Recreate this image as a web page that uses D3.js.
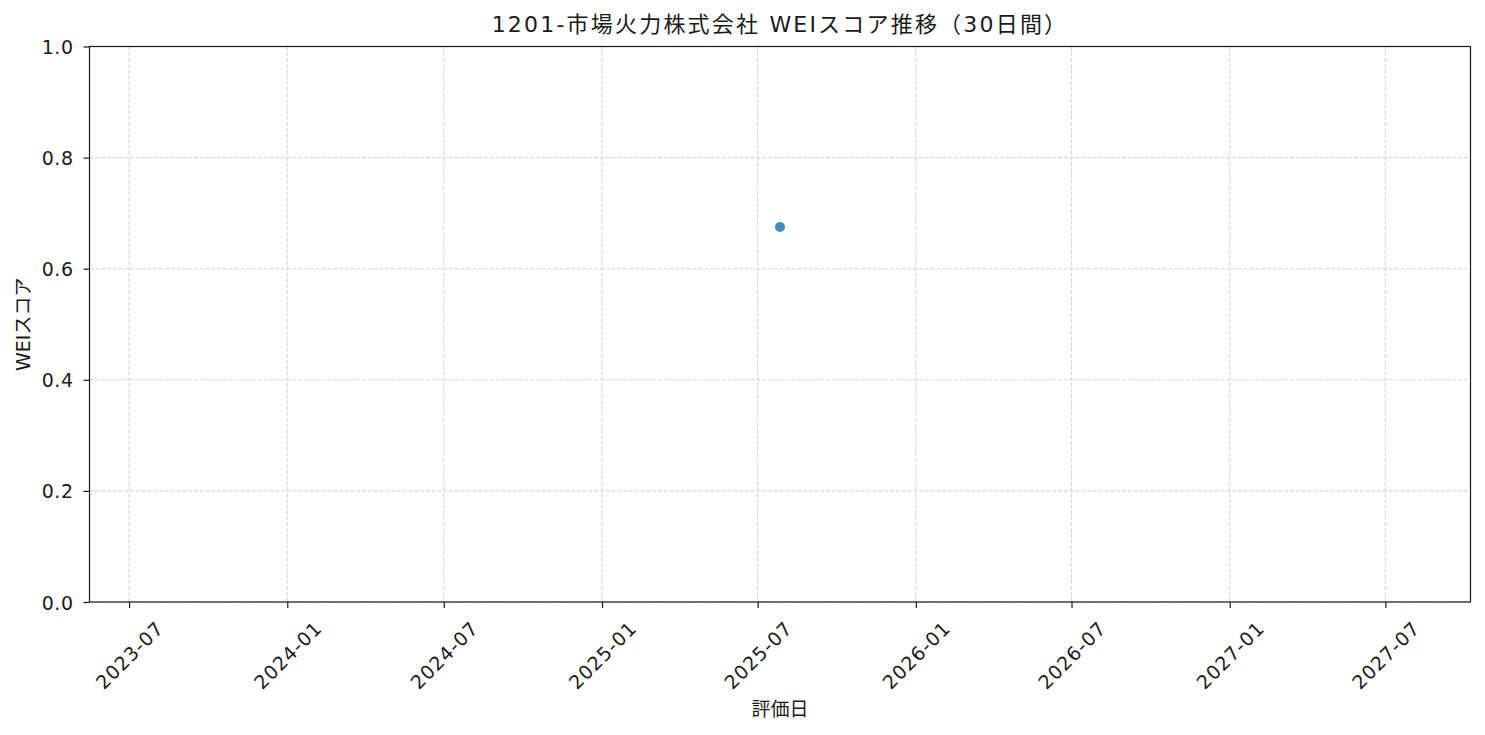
<!DOCTYPE html>
<html><head><meta charset="utf-8">
<script src="https://cdn.jsdelivr.net/npm/d3@7"></script>
<style>body{margin:0;background:#fff}svg{display:block}text{font-family:"DejaVu Sans","Noto Sans CJK JP",sans-serif;fill:#1a1a1a}</style>
</head><body><svg id="c" width="1485" height="735"></svg>
<script>
const dates = ["2025-07-27"];
const scores = [0.675];
const yTicks = [0, 0.2, 0.4, 0.6, 0.8, 1.0];
const xTickLabels = ["2023-07","2024-01","2024-07","2025-01","2025-07","2026-01","2026-07","2027-01","2027-07"];
const titleText = "1201-市場火力株式会社 WEIスコア推移（30日間）";
const xLabel = "評価日";
const yLabel = "WEIスコア";

const W=1485,H=735, L=89.5, R=1470.5, T=46.5, B=602;
const svg=d3.select("#c");
const parse=d3.utcParse("%Y-%m-%d");
const parseM=d3.utcParse("%Y-%m");
const pts=dates.map((d,i)=>({d:parse(d),v:scores[i]}));
const c=pts[0].d, DAY=864e5;
const x=d3.scaleUtc().domain([new Date(+c-803*DAY), new Date(+c+803*DAY)]).range([L,R]);
const y=d3.scaleLinear().domain([0,1]).range([B,T]);
const xt=xTickLabels.map(parseM);

// grid
const g=svg.append("g");
g.selectAll(".gx").data(xt).join("line").attr("x1",d=>x(d)).attr("x2",d=>x(d)).attr("y1",T).attr("y2",B)
 .attr("stroke","#d6d6d6").attr("stroke-width",1.1).attr("stroke-dasharray","4,1.8");
g.selectAll(".gy").data(yTicks).join("line").attr("y1",d=>y(d)).attr("y2",d=>y(d)).attr("x1",L).attr("x2",R)
 .attr("stroke","#d6d6d6").attr("stroke-width",1.1).attr("stroke-dasharray","4,1.8");

// axes
const xa=svg.append("g").attr("transform",`translate(0,${B})`)
 .call(d3.axisBottom(x).tickValues(xt).tickFormat(d3.utcFormat("%Y-%m")).tickSize(6).tickPadding(4));
xa.selectAll("text").attr("font-size",19).attr("letter-spacing",1).attr("text-anchor","middle")
 .attr("y",null).attr("dy",null).attr("dominant-baseline","central")
 .attr("transform","translate(0,53) rotate(-45)");
const ya=svg.append("g").attr("transform",`translate(${L},0)`)
 .call(d3.axisLeft(y).tickValues(yTicks).tickFormat(d3.format(".1f")).tickSize(6).tickPadding(4));
ya.selectAll("text").attr("font-size",19).attr("letter-spacing",0.5).attr("x",-16).attr("dy",null).attr("dominant-baseline","central");
[xa,ya].forEach(a=>{a.select(".domain").remove();a.selectAll("line").attr("stroke","#1a1a1a").attr("stroke-width",1.2);a.selectAll("text").attr("fill","#1a1a1a")});
xa.attr("font-family",null); ya.attr("font-family",null);

svg.append("rect").attr("x",L).attr("y",T).attr("width",R-L).attr("height",B-T)
 .attr("fill","none").attr("stroke","#1a1a1a").attr("stroke-width",1.2);

// points
svg.selectAll(".pt").data(pts).join("circle").attr("cx",d=>x(d.d)).attr("cy",d=>y(d.v)).attr("r",5)
 .attr("fill","#1f77b4").attr("fill-opacity",0.85);

svg.append("text").attr("x",(L+R)/2).attr("y",32).attr("text-anchor","middle").attr("font-size",22).attr("letter-spacing",2.2).text(titleText);
svg.append("text").attr("x",(L+R)/2).attr("y",716).attr("text-anchor","middle").attr("font-size",19).text(xLabel);
svg.append("text").attr("transform",`translate(30,${(T+B)/2}) rotate(-90)`).attr("text-anchor","middle").attr("font-size",19).text(yLabel);
</script></body></html>
